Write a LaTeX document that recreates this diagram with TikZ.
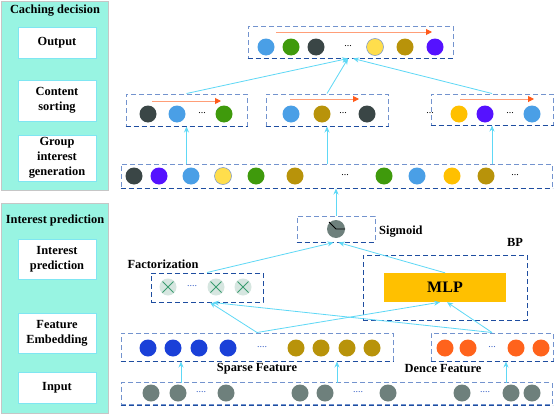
\documentclass[tikz,border=0pt]{standalone}
\usepackage{fontspec}
\setmainfont{Liberation Serif}
\usetikzlibrary{arrows.meta}
\definecolor{panelc}{HTML}{98F4E2}
\definecolor{pborder}{HTML}{7FE6F2}
\definecolor{boxc}{HTML}{7393CE}
\definecolor{boxdark}{HTML}{1E4DA0}
\definecolor{conn}{HTML}{5ED8F6}
\definecolor{oline}{HTML}{FF9E78}
\definecolor{ohead}{HTML}{FF5A1A}
\definecolor{cDark}{HTML}{3A4646}
\definecolor{cBlue}{HTML}{4A9FE6}
\definecolor{cGreen}{HTML}{3F9A0C}
\definecolor{cYelL}{HTML}{FFDE4C}
\definecolor{cGold}{HTML}{B8930A}
\definecolor{cPurp}{HTML}{5512FF}
\definecolor{cYelO}{HTML}{FFC000}
\definecolor{cEmb}{HTML}{1A40D8}
\definecolor{cOr}{HTML}{FF631C}
\definecolor{cGray}{HTML}{6E807C}
\definecolor{cFac}{HTML}{D6E6E0}
\definecolor{cX}{HTML}{3C9C70}
\definecolor{dotc}{HTML}{3A62C8}
\tikzset{
  panelbox/.style={rectangle, fill=panelc, draw=gray!45, line width=0.6pt, inner sep=0pt},
  lbox/.style={rectangle, fill=white, draw=pborder, line width=0.8pt, minimum width=78pt, align=center, inner sep=0pt, font=\fontsize{12.4}{15}\selectfont\bfseries},
  ttl/.style={font=\fontsize{12.4}{14}\selectfont\bfseries, inner sep=0pt},
  dbox/.style={rectangle, draw=boxc, line width=1pt, dash pattern=on 5pt off 3pt, inner sep=0pt},
  ball/.style={circle, minimum size=17pt, inner sep=0pt, draw=none},
  dts/.style={font=\fontsize{10}{10}\selectfont, inner sep=0pt},
  lab/.style={font=\fontsize{12.4}{14}\selectfont\bfseries, inner sep=0pt},
  cn/.style={draw=conn, line width=0.8pt, -{Stealth[length=6pt,width=5pt]}},
  oarr/.style={draw=oline, line width=1pt, -{Triangle[length=6pt,width=6pt,color=ohead]}}
}
\newcommand{\darkbottom}[1]{\draw[boxdark, line width=1pt, dash pattern=on 5pt off 3pt] (#1.south west) -- (#1.south east);}
\begin{document}
\begin{tikzpicture}[x=1pt,y=-1pt]
\useasboundingbox (0,0) rectangle (554,415);
\fill[white] (0,0) rectangle (554,415);
% ---------------- left panels
\node[panelbox, minimum width=107pt, minimum height=189pt] (cpanel) at (54.5,95.5) {};
\node[ttl] (ctitle) at (55,11) {Caching decision};
\node[lbox, minimum height=31pt] (lout) at (57,42.5) {Output};
\node[lbox, minimum height=41pt] (lcs) at (57,100.5) {Content\\sorting};
\node[lbox, minimum height=46pt] (lgig) at (57,158) {Group\\interest\\generation};
\node[panelbox, minimum width=107pt, minimum height=210pt] (ipanel) at (54.5,308) {};
\node[ttl] (ititle) at (55,221) {Interest prediction};
\node[lbox, minimum height=40pt] (lip) at (57,259) {Interest\\prediction};
\node[lbox, minimum height=40pt] (lfe) at (57,333) {Feature\\Embedding};
\node[lbox, minimum height=31pt] (lin) at (57,387.5) {Input};
% ---------------- dashed boxes
\node[dbox, minimum width=205pt, minimum height=32pt] (out) at (350.5,42) {};
\node[dbox, minimum width=121pt, minimum height=32pt] (cs1) at (186.5,110) {};
\node[dbox, minimum width=122pt, minimum height=32pt] (cs2) at (327,110) {};
\node[dbox, minimum width=122pt, minimum height=31pt] (cs3) at (492,109.5) {};
\node[dbox, minimum width=431pt, minimum height=24pt] (grp) at (336.5,176) {};
\node[dbox, minimum width=78pt, minimum height=26pt] (sigbox) at (336,229) {};
\node[dbox, draw=boxdark, minimum width=164pt, minimum height=65pt] (bp) at (445,287.5) {};
\node[dbox, draw=boxdark, minimum width=112pt, minimum height=29pt] (fac) at (207,287.5) {};
\node[dbox, minimum width=272pt, minimum height=28pt] (sparse) at (257,347) {};
\node[dbox, minimum width=122pt, minimum height=28pt] (dense) at (492,347) {};
\node[dbox, minimum width=431pt, minimum height=22pt] (inp) at (336.5,393.5) {};
\foreach \b in {out,cs1,cs2,cs3,grp,sigbox,sparse,dense,inp} {\darkbottom{\b}}
\node[fill=cYelO, minimum width=122pt, minimum height=29pt, inner sep=0pt, font=\fontsize{16}{16}\selectfont\bfseries] (mlp) at (445,287.5) {MLP};
% ---------------- labels
\node[lab, anchor=west] (lsig) at (379,232) {Sigmoid};
\node[lab] (lbp) at (515,242) {BP};
\node[lab] (lfac) at (163,264) {Factorization};
\node[lab] (lsp) at (257,369) {Sparse Feature};
\node[lab] (lde) at (443,369) {Dence Feature};
% ---------------- orange arrows
\coordinate (oa1) at (276,32); \coordinate (ob1) at (432,32);
\coordinate (oa2) at (152,101); \coordinate (ob2) at (221,101);
\coordinate (oa3) at (290,99); \coordinate (ob3) at (359,99);
\coordinate (oa4) at (460,99); \coordinate (ob4) at (534,99);
\foreach \i in {1,2,3,4} {\draw[oarr] (oa\i) -- (ob\i);}
% ---------------- balls
\foreach \x/\c [count=\i] in {266/cBlue,291/cGreen,316/cDark,375/cYelL,405/cGold,435/cPurp}
  {\node[ball, fill=\c] (o\i) at (\x,47) {};}
\node[dts] (od) at (348,46) {...};
\foreach \x/\c [count=\i] in {148/cDark,177/cBlue,224/cGreen}
  {\node[ball, fill=\c] (a\i) at (\x,114) {};}
\node[dts] (ad) at (202,113) {...};
\foreach \x/\c [count=\i] in {291/cBlue,322/cGold,367/cDark}
  {\node[ball, fill=\c] (b\i) at (\x,114) {};}
\node[dts] (bd) at (343,113) {...};
\foreach \x/\c [count=\i] in {459/cYelO,485/cPurp,532/cBlue}
  {\node[ball, fill=\c] (c\i) at (\x,114) {};}
\node[dts] (cd1) at (430,113) {...};
\node[dts] (cd2) at (510,113) {...};
\foreach \x/\c [count=\i] in {134/cDark,159/cPurp,191/cBlue,223/cYelL,256/cGreen,295/cGold,384/cGreen,417/cBlue,452/cYelO,486/cGold}
  {\node[ball, fill=\c] (g\i) at (\x,176) {};}
\node[dts] (gd1) at (345,175) {...};
\node[dts] (gd2) at (515,175) {...};
\foreach \b in {o4,g4} {\draw[boxc, line width=0.5pt] (\b) circle (8.5pt);}
% sigmoid
\node[ball, fill=cGray, minimum size=18pt] (sig) at (336,229) {};
\draw[black, line width=0.8pt] ([shift={(-7,-7)}]sig.center) -- (sig.center) -- ([shift={(9,0)}]sig.center);
% factorization
\foreach \x [count=\i] in {168,216,243}
  {\node[ball, fill=cFac] (f\i) at (\x,287) {};
   \draw[cX, line width=0.9pt] ([shift={(-5.5,-5.5)}]f\i.center) -- ([shift={(5.5,5.5)}]f\i.center)
        ([shift={(-5.5,5.5)}]f\i.center) -- ([shift={(5.5,-5.5)}]f\i.center);}
\node[dts, text=dotc] (fd) at (192,286) {....};
% embeddings
\foreach \x/\c [count=\i] in {148/cEmb,173/cEmb,199/cEmb,228/cEmb,296/cGold,321/cGold,347/cGold,372/cGold}
  {\node[ball, fill=\c] (s\i) at (\x,348) {};}
\node[dts, text=dotc] (sd) at (262,347) {....};
\foreach \x [count=\i] in {445,468,516,541}
  {\node[ball, fill=cOr] (d\i) at (\x,348) {};}
\node[dts, text=dotc] (dd) at (492,347) {...};
% input
\foreach \x [count=\i] in {151,178,226,300,325,388,462,511,532}
  {\node[ball, fill=cGray] (n\i) at (\x,393) {};}
\node[dts, text=dotc] (nd1) at (201,392) {....};
\node[dts, text=dotc] (nd2) at (358,392) {....};
\node[dts, text=dotc] (nd3) at (485,392) {....};
% ---------------- connectors
\draw[cn] (cs1.north) -- ([xshift=-2.5pt]out.south);
\draw[cn] (cs2.north) -- ([xshift=-2.5pt]out.south);
\draw[cn] (cs3.north) -- ([xshift=2.5pt]out.south);
\foreach \b in {cs1,cs2,cs3} {\draw[cn] (\b.south |- grp.north) -- (\b.south);}
\draw[cn] (sigbox.north) -- (sigbox.north |- grp.south);
\draw[cn] (fac.north) -- ([xshift=-2.5pt]sigbox.south);
\draw[cn] (mlp.north) -- ([xshift=2.5pt]sigbox.south);
\draw[cn] (sparse.north) -- ([xshift=3pt]fac.south);
\draw[cn] (dense.north) -- ([xshift=6pt]fac.south);
\draw[cn] (sparse.north) -- ([xshift=-5pt]mlp.south);
\draw[cn] (dense.north) -- ([xshift=2pt]mlp.south);
\coordinate (i1) at (181,382.5);
\coordinate (i2) at (337,382.5);
\coordinate (i3) at (506,382.5);
\draw[cn] (i1) -- (i1 |- sparse.south);
\draw[cn] (i2) -- (i2 |- sparse.south);
\draw[cn] (i3) -- (i3 |- dense.south);
\end{tikzpicture}
\end{document}
